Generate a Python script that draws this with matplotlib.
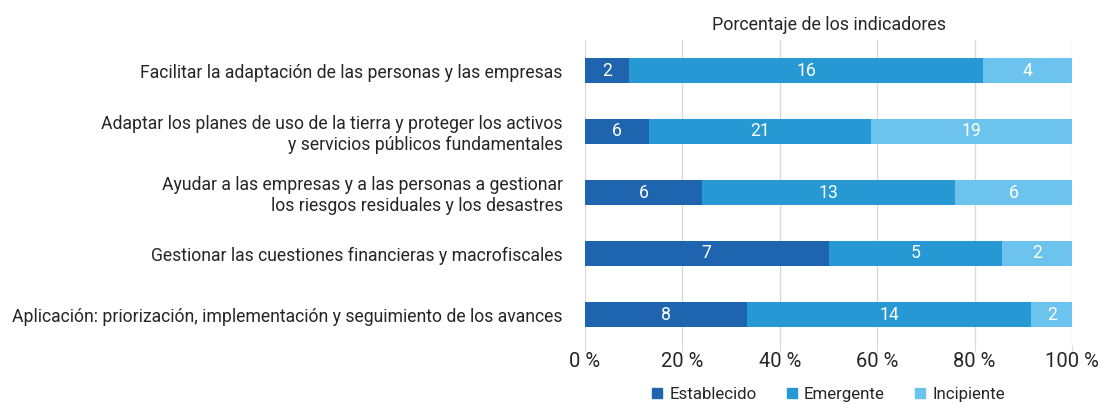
"""Stacked 100 % bar chart: share of indicators by maturity level per pillar."""

import matplotlib.pyplot as plt
import numpy as np
from matplotlib.lines import Line2D

plt.rcParams["font.family"] = ["Roboto", "DejaVu Sans"]

CATEGORIES = [
    "Facilitar la adaptación de las personas y las empresas",
    "Adaptar los planes de uso de la tierra y proteger los activos\ny servicios públicos fundamentales",
    "Ayudar a las empresas y a las personas a gestionar\nlos riesgos residuales y los desastres",
    "Gestionar las cuestiones financieras y macrofiscales",
    "Aplicación: priorización, implementación y seguimiento de los avances",
]
SERIES = ["Establecido", "Emergente", "Incipiente"]
ESTABLECIDO = [2, 6, 6, 7, 8]
EMERGENTE = [16, 21, 13, 5, 14]
INCIPIENTE = [4, 19, 6, 2, 2]
X_TICKS = [0, 20, 40, 60, 80, 100]
X_TICK_LABELS = ["0 %", "20 %", "40 %", "60 %", "80 %", "100 %"]
TITLE = "Porcentaje de los indicadores"

COLORS = ["#1f64ae", "#2698d4", "#6cc4ee"]
TEXT_COLOR = "#262626"
GRID_COLOR = "#d9d9d9"
FONT_SIZE = 12.7


def main() -> None:
    counts = np.array([ESTABLECIDO, EMERGENTE, INCIPIENTE], dtype=float)
    shares = counts / counts.sum(axis=0) * 100
    y = np.arange(len(CATEGORIES))

    fig = plt.figure(figsize=(11, 4.05), dpi=100)
    ax = fig.add_axes([585 / 1100, 60 / 405, 487 / 1100, 305 / 405])

    left = np.zeros(len(CATEGORIES))
    for name, color, share, count in zip(SERIES, COLORS, shares, counts):
        ax.barh(y, share, left=left, height=0.4, color=color, label=name, zorder=3)
        for yi, l, s, c in zip(y, left, share, count):
            ax.text(l + s / 2, yi, f"{int(c)}", ha="center", va="center",
                    color="white", fontsize=FONT_SIZE, zorder=4)
        left += share

    ax.set_xlim(0, 100)
    ax.set_ylim(len(CATEGORIES) - 0.5, -0.5)
    ax.set_yticks(y)
    ax.set_yticklabels(CATEGORIES, fontsize=FONT_SIZE, color=TEXT_COLOR, linespacing=1.15)
    ax.set_xticks(X_TICKS)
    ax.set_xticklabels(X_TICK_LABELS, fontsize=14.5, color=TEXT_COLOR)
    ax.tick_params(axis="y", length=0, pad=16)
    ax.tick_params(axis="x", length=5, color=GRID_COLOR, pad=0)
    ax.grid(axis="x", color=GRID_COLOR, linewidth=1, zorder=0)
    for spine in ax.spines.values():
        spine.set_visible(False)

    ax.set_title(TITLE, fontsize=FONT_SIZE + 0.2, color=TEXT_COLOR, pad=7)

    handles = [Line2D([], [], marker="s", linestyle="none", markersize=6.5,
                      color=c, label=n) for n, c in zip(SERIES, COLORS)]
    fig.legend(handles=handles, loc="lower center", bbox_to_anchor=(826 / 1100, -0.03),
               ncol=3, frameon=False, fontsize=12.2, handlelength=1.2,
               handletextpad=0.1, columnspacing=1.5, labelcolor=TEXT_COLOR)

    fig.savefig("out.png", dpi=100)
    plt.close(fig)


if __name__ == "__main__":
    main()
